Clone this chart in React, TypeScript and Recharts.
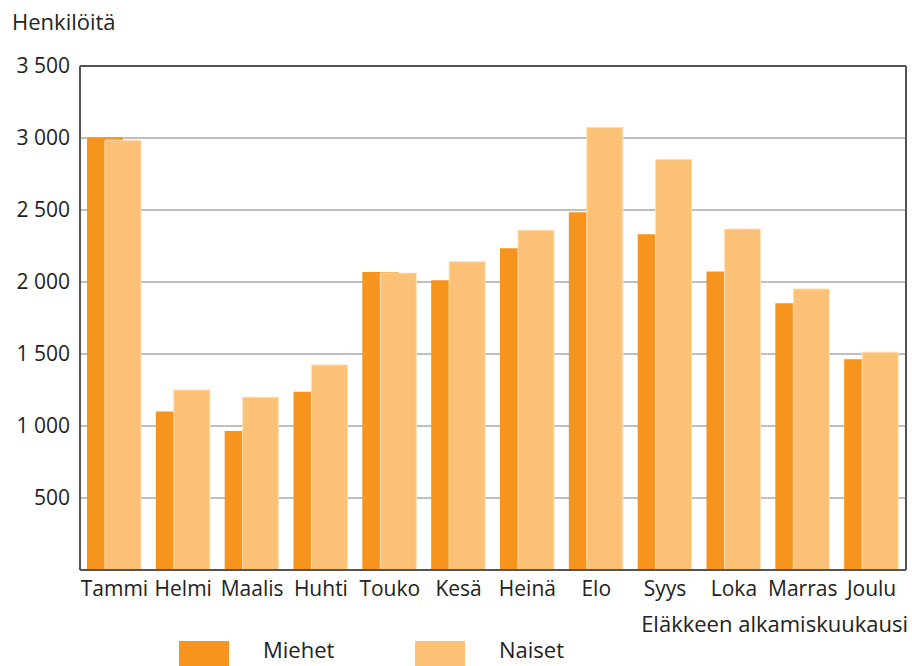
import { BarChart, Bar, XAxis, YAxis, CartesianGrid, ReferenceLine, Label } from "recharts";

const MONTHS = ["Tammi", "Helmi", "Maalis", "Huhti", "Touko", "Kesä", "Heinä", "Elo", "Syys", "Loka", "Marras", "Joulu"];
const MIEHET = [3005, 1100, 965, 1238, 2070, 2012, 2234, 2484, 2332, 2073, 1852, 1463];
const NAISET = [2985, 1250, 1200, 1424, 2062, 2140, 2360, 3074, 2852, 2368, 1952, 1513];
const Y_TICKS = [0, 500, 1000, 1500, 2000, 2500, 3000, 3500];

const SERIES = [
  { key: "miehet", name: "Miehet", color: "#f7941d" },
  { key: "naiset", name: "Naiset", color: "#fbc176" },
];

const FONT = "'Open Sans', sans-serif";
const TEXT = "#222";
const FRAME = "#555";

const data = MONTHS.map((m, i) => ({ month: m, miehet: MIEHET[i], naiset: NAISET[i] }));

const fmt = (v: number) => (v === 0 ? "" : v.toLocaleString("fi-FI").replace(/\s/g, " "));

export default function App() {
  return (
    <div style={{ position: "absolute", left: 0, top: 0, width: 912, height: 666, fontFamily: FONT, background: "#fff", overflow: "hidden" }}>
      <div style={{ position: "absolute", left: 12, top: 6, fontSize: 22, color: TEXT, lineHeight: "30px" }}>Henkilöitä</div>
      <BarChart
        width={912}
        height={666}
        data={data}
        margin={{ top: 66, right: 0, left: 0, bottom: 0 }}
        barSize={36}
        barGap={-18}
      >
        <CartesianGrid vertical={false} stroke="#aaa" strokeWidth={1.5} />
        <XAxis
          dataKey="month"
          height={96}
          axisLine={{ stroke: FRAME, strokeWidth: 2 }}
          tickLine={false}
          tickMargin={5}
          interval={0}
          tick={{ fill: TEXT, fontSize: 21, fontFamily: FONT }}
        >
          <Label
            content={() => (
              <text x={908} y={632} textAnchor="end" fill={TEXT} fontSize={22} fontFamily={FONT}>
                Eläkkeen alkamiskuukausi
              </text>
            )}
          />
        </XAxis>
        <YAxis
          width={80}
          domain={[0, 3500]}
          ticks={Y_TICKS}
          interval={0}
          axisLine={{ stroke: FRAME, strokeWidth: 2 }}
          tickLine={false}
          tickMargin={4}
          tickFormatter={fmt}
          tick={{ fill: TEXT, fontSize: 21, fontFamily: FONT }}
        />
        <YAxis
          yAxisId="right"
          orientation="right"
          width={6}
          domain={[0, 3500]}
          tick={false}
          tickLine={false}
          axisLine={{ stroke: FRAME, strokeWidth: 2 }}
        />
        <ReferenceLine y={3500} stroke={FRAME} strokeWidth={2} />
        <Bar dataKey="miehet" name="Miehet" fill={SERIES[0].color} isAnimationActive={false} />
        <Bar dataKey="naiset" name="Naiset" fill={SERIES[1].color} stroke="#fde0b8" strokeWidth={1} isAnimationActive={false} />
      </BarChart>
      {SERIES.map((s, i) => (
        <div key={s.key}>
          <div style={{ position: "absolute", left: 179 + i * 236, top: 641, width: 50, height: 25, background: s.color }} />
          <div style={{ position: "absolute", left: 263 + i * 236, top: 634, fontSize: 22, color: TEXT, lineHeight: "30px" }}>{s.name}</div>
        </div>
      ))}
    </div>
  );
}
